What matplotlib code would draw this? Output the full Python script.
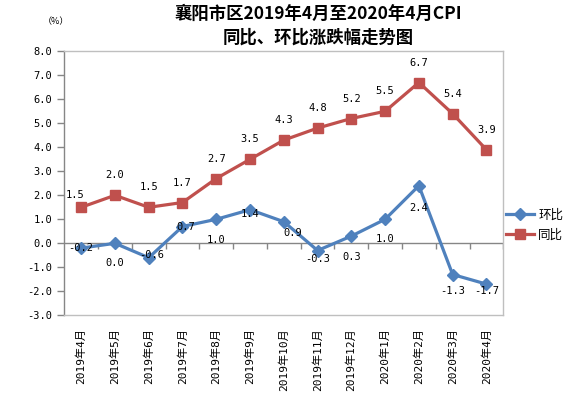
import matplotlib
matplotlib.use("Agg")
import matplotlib.pyplot as plt
import numpy as np

# ---- data ----
months = ["2019年4月", "2019年5月", "2019年6月", "2019年7月", "2019年8月", "2019年9月",
          "2019年10月", "2019年11月", "2019年12月", "2020年1月", "2020年2月", "2020年3月", "2020年4月"]
mom = [-0.2, 0.0, -0.6, 0.7, 1.0, 1.4, 0.9, -0.3, 0.3, 1.0, 2.4, -1.3, -1.7]   # 环比
yoy = [1.5, 2.0, 1.5, 1.7, 2.7, 3.5, 4.3, 4.8, 5.2, 5.5, 6.7, 5.4, 3.9]        # 同比
yticks = [-3, -2, -1, 0, 1, 2, 3, 4, 5, 6, 7, 8]
title = "襄阳市区2019年4月至2020年4月CPI\n同比、环比涨跌幅走势图"

# label offsets in pixels (style)
mom_off = [(0, 0), (0, -20), (3, 3), (3, 0), (0, -21), (0, -4), (9, -11), (0, -8),
           (0, -21), (0, -20), (0, -22), (0, -17), (0, -7)]
yoy_off = [(-6, 12)] + [(0, 20)] * 12

BLUE = "#4F81BD"
RED = "#C0504D"
DARK = "#868686"
LIGHT = "#BFBFBF"
MONO = ["DejaVu Sans Mono", "Noto Sans CJK SC"]

plt.rcParams["font.family"] = ["Noto Sans CJK SC", "DejaVu Sans"]

fig = plt.figure(figsize=(5.83, 3.98), dpi=100)
W, H = 583, 398
L, R, T, B = 64.3, 503.3, 51.3, 315.3
ax = fig.add_axes([L / W, 1 - B / H, (R - L) / W, (B - T) / H])

x = np.arange(len(months))
ax.plot(x, mom, color=BLUE, lw=2.3, marker="D", ms=6, mec=BLUE, mfc=BLUE, label="环比", zorder=3)
ax.plot(x, yoy, color=RED, lw=2.3, marker="s", ms=7, mec=RED, mfc=RED, label="同比", zorder=3)

for xi, v, (dx, dy) in zip(x, mom, mom_off):
    ax.annotate(f"{v:.1f}", (xi, v), xytext=(dx, dy), textcoords="offset pixels",
                ha="center", va="center", fontsize=7.5, family=MONO, zorder=4)
for xi, v, (dx, dy) in zip(x, yoy, yoy_off):
    ax.annotate(f"{v:.1f}", (xi, v), xytext=(dx, dy), textcoords="offset pixels",
                ha="center", va="center", fontsize=7.5, family=MONO, zorder=4)

ax.set_xlim(-0.5, len(months) - 0.5)
ax.set_ylim(min(yticks), max(yticks))
ax.set_yticks(yticks)
ax.set_yticklabels([f"{t:.1f}" for t in yticks], family=MONO, fontsize=7.5)
ax.tick_params(axis="y", direction="out", length=5, width=1, color=DARK, pad=3.6)

ax.set_xticks(x)
ax.set_xticklabels(months, rotation=90, va="top", ha="center", family=MONO, fontsize=8)
ax.tick_params(axis="x", length=0, pad=9.5)

for s in ["top", "right", "bottom"]:
    ax.spines[s].set_color(LIGHT)
    ax.spines[s].set_linewidth(1)
ax.spines["left"].set_color(DARK)
ax.spines["left"].set_linewidth(1)

# zero line with category boundary ticks
ax.axhline(0, color=DARK, lw=1, zorder=1)
ax.vlines(np.arange(0.5, len(months), 1), -0.25, 0, color=DARK, lw=1, zorder=1)

fig.text(318 / W, 1 - 25.5 / H, title, ha="center", va="center", fontsize=12.5,
         fontweight="bold", linespacing=1.4)
fig.text(55.5 / W, 1 - 22 / H, "（%）", ha="center", va="center", fontsize=6.5)

ax.legend(loc="center left", bbox_to_anchor=(505.7 / W, 1 - 225 / H),
          bbox_transform=fig.transFigure, frameon=False, fontsize=9,
          handlelength=2.3, handletextpad=0.3, labelspacing=0.55,
          borderpad=0, borderaxespad=0)

fig.savefig("out.png", dpi=100)
